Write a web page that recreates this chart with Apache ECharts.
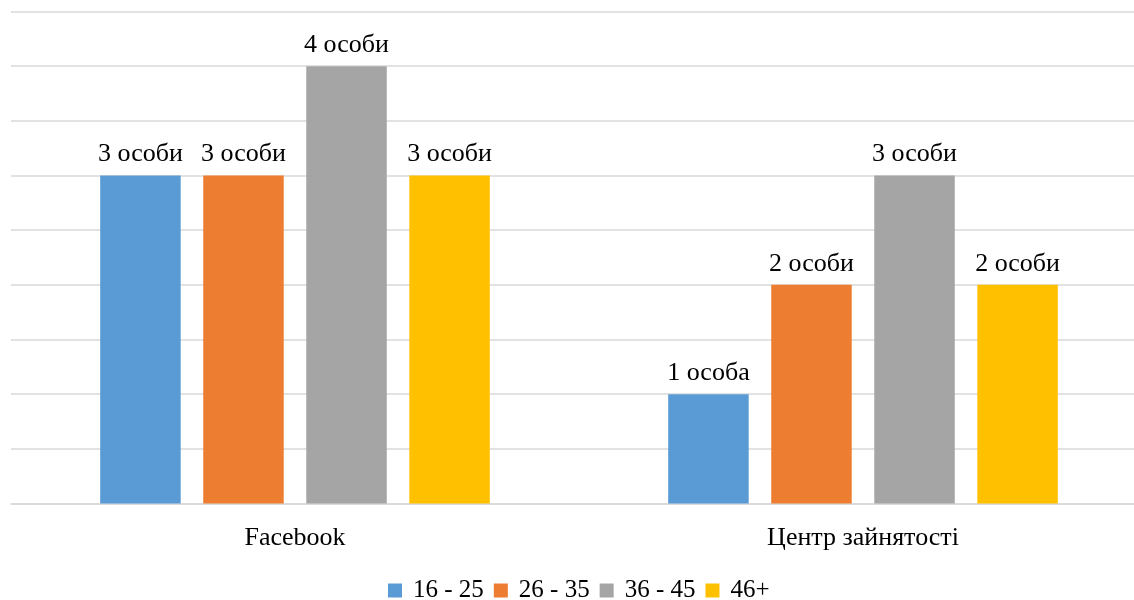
<!DOCTYPE html>
<html>
<head>
    <meta charset="utf-8">
    <title>ECharts</title>
    <script src="https://cdn.jsdelivr.net/npm/echarts@6/dist/echarts.min.js"></script>
    <style>
        html, body { margin: 0; padding: 0; background: #fff; }
    </style>
</head>
<body>
<div id="main" style="width: 1134px;height:600px;"></div>

<script type="text/javascript">
    // categories and age groups
    var categories = ['Facebook', 'Центр зайнятості'];
    var groups = ['16 - 25', '26 - 35', '36 - 45', '46+'];
    var colors = ['#5b9bd5', '#ed7d31', '#a5a5a5', '#ffc000'];

    // values per age group
    var age16_25 = [3, 1];
    var age26_35 = [3, 2];
    var age36_45 = [4, 3];
    var age46 = [3, 2];
    var values = [age16_25, age26_35, age36_45, age46];

    var myChart = echarts.init(document.getElementById('main'));

    var font = '"Liberation Serif", "Times New Roman", serif';

    var series = [];
    for (var i = 0; i < groups.length; i++) {
        series.push({
            name: groups[i],
            type: 'bar',
            barWidth: 80.5,
            barGap: '28%',
            data: values[i],
            itemStyle: { color: colors[i] },
            label: {
                show: true,
                position: 'top',
                distance: 8,
                color: '#000',
                fontFamily: font,
                fontSize: 26,
                formatter: function (p) {
                    return p.value + (p.value === 1 ? ' особа' : ' особи');
                }
            }
        });
    }

    var option = {
        animation: false,
        backgroundColor: '#fff',
        grid: {
            left: 11,
            top: 11.5,
            right: -13,
            bottom: 96.5,
            outerBoundsMode: 'none',
            containLabel: false
        },
        legend: {
            top: 573,
            left: 383,
            itemWidth: 14,
            itemHeight: 14,
            itemGap: 10,
            icon: 'rect',
            data: groups,
            textStyle: {
                fontFamily: font,
                fontSize: 25,
                color: '#000',
                padding: [0, 0, 0, 6]
            }
        },
        xAxis: {
            type: 'category',
            data: categories,
            axisLine: { lineStyle: { color: '#d9d9d9', width: 1.5 } },
            axisTick: { show: false },
            axisLabel: {
                margin: 22,
                fontFamily: font,
                fontSize: 26,
                color: '#000'
            }
        },
        yAxis: {
            type: 'value',
            min: 0,
            max: 4.5,
            interval: 0.5,
            axisLine: { show: false },
            axisTick: { show: false },
            axisLabel: { show: false },
            splitLine: { lineStyle: { color: '#d9d9d9', width: 1.5 } }
        },
        series: series
    };

    myChart.setOption(option);
</script>
</body>
</html>
